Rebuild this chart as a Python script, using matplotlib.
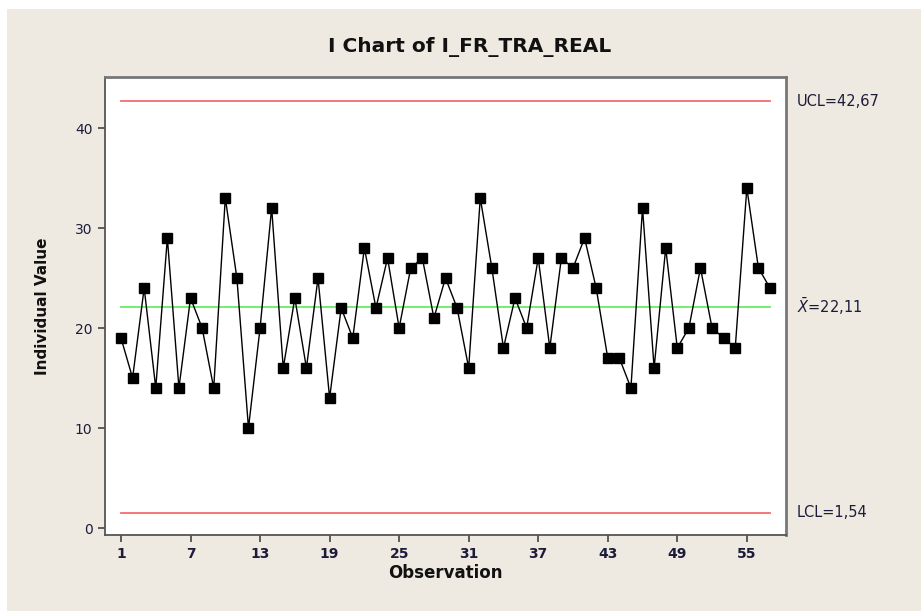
import matplotlib
matplotlib.use("Agg")
import matplotlib.pyplot as plt
from matplotlib.patches import Rectangle
import numpy as np

# Individual observations of I_FR_TRA_REAL
values = [19, 15, 24, 14, 29, 14, 23, 20, 14, 33,
          25, 10, 20, 32, 16, 23, 16, 25, 13, 22,
          19, 28, 22, 27, 20, 26, 27, 21, 25, 22,
          16, 33, 26, 18, 23, 20, 27, 18, 27, 26,
          29, 24, 17, 17, 14, 32, 16, 28, 18, 20,
          26, 20, 19, 18, 34, 26, 24]
observations = list(range(1, len(values) + 1))

center_line = 22.11
ucl = 42.67
lcl = 1.54

x_ticks = [1, 7, 13, 19, 25, 31, 37, 43, 49, 55]
y_ticks = [0, 10, 20, 30, 40]

bg = "#EEEAE1"
text_col = "#1c1c3a"

fig = plt.figure(figsize=(9.21, 6.11), dpi=100)
fig.patch.set_facecolor("white")
fig.patches.append(Rectangle((7 / 921, 0), 1, 1 - 9 / 611, transform=fig.transFigure,
                             facecolor=bg, edgecolor="none", zorder=-10))

ax = fig.add_axes([105 / 921, (611 - 535) / 611, 681 / 921, 458 / 611])
ax.set_facecolor("white")

ax.plot([1, len(values)], [ucl, ucl], color="#f26d6d", lw=1.3, zorder=2)
ax.plot([1, len(values)], [lcl, lcl], color="#f26d6d", lw=1.3, zorder=2)
ax.plot([1, len(values)], [center_line, center_line], color="#66ee66", lw=1.3, zorder=2)

ax.plot(observations, values, color="black", lw=1.0, marker="s", markersize=7.5,
        markerfacecolor="black", markeredgecolor="black", zorder=3)

ax.set_xlim(-0.38, 58.38)
ax.set_ylim(-0.7, 45.1)
ax.set_xticks(x_ticks)
ax.set_xticklabels([str(t) for t in x_ticks])
ax.set_yticks(y_ticks)
ax.set_yticklabels([str(t) for t in y_ticks])

ax.tick_params(axis="both", direction="out", length=5, width=1.2, color="#444444",
               labelsize=10, labelcolor=text_col, pad=4)
for lbl in ax.get_xticklabels():
    lbl.set_fontweight("bold")

for side in ["left", "bottom"]:
    ax.spines[side].set_color("#555555")
    ax.spines[side].set_linewidth(1.3)
for side in ["top", "right"]:
    ax.spines[side].set_color("#777777")
    ax.spines[side].set_linewidth(2.0)

ax.set_xlabel("Observation", fontsize=12, fontweight="bold", color="#111111", labelpad=2)
ax.set_ylabel("Individual Value", fontsize=11, fontweight="bold", color="#111111", labelpad=18)

fig.text(470 / 921, 1 - 47 / 611, "I Chart of I_FR_TRA_REAL", ha="center", va="center",
         fontsize=14.5, fontweight="bold", color="#111111")

for yv, txt in [(ucl, "UCL=42,67"), (center_line, r"$\bar{X}$=22,11"), (lcl, "LCL=1,54")]:
    ax.annotate(txt, xy=(1.0, yv), xycoords=("axes fraction", "data"),
                xytext=(8, 0), textcoords="offset points", ha="left", va="center",
                fontsize=10.5, color=text_col, annotation_clip=False)

fig.savefig("out.png", dpi=100, facecolor=fig.get_facecolor())
